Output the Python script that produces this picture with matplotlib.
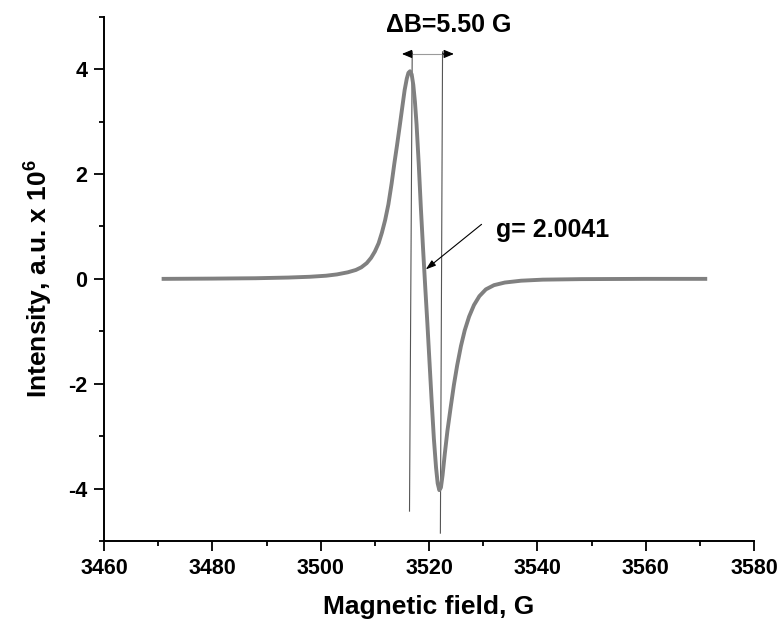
import matplotlib
matplotlib.use("Agg")
import matplotlib.pyplot as plt
from matplotlib.ticker import MultipleLocator

plt.rcParams["font.family"] = ["Liberation Sans", "DejaVu Sans"]
plt.rcParams["font.weight"] = "bold"
plt.rcParams["axes.unicode_minus"] = False
plt.rcParams["mathtext.fontset"] = "custom"
plt.rcParams["mathtext.rm"] = "Liberation Sans:bold"
plt.rcParams["mathtext.bf"] = "Liberation Sans:bold"
plt.rcParams["mathtext.default"] = "regular"

# EPR spectrum (field in G, intensity in 1e6 a.u.)
field = [3471, 3480, 3488, 3494, 3498, 3501, 3503, 3505, 3506.5, 3507.5,
         3508.5, 3509.3, 3510.0, 3510.7, 3511.3, 3511.9, 3512.5, 3513.1, 3513.6,
         3514.1, 3514.6, 3515.1, 3515.5, 3515.9, 3516.2, 3516.5, 3516.8, 3517.1,
         3517.4, 3517.7, 3518.1, 3518.5, 3518.9, 3519.3, 3519.7, 3520.1, 3520.5,
         3520.9, 3521.3, 3521.6, 3521.9, 3522.2, 3522.5, 3522.9, 3523.4, 3524.0,
         3524.6, 3525.2, 3525.9, 3526.6, 3527.4, 3528.3, 3529.3, 3530.5, 3532,
         3534, 3537, 3541, 3548, 3560, 3571]
intensity = [0.0, 0.005, 0.012, 0.025, 0.04, 0.06, 0.085, 0.125, 0.17, 0.22,
             0.30, 0.40, 0.52, 0.68, 0.88, 1.12, 1.42, 1.82, 2.20,
             2.55, 2.92, 3.30, 3.60, 3.82, 3.93, 3.96, 3.90, 3.70,
             3.38, 2.95, 2.20, 1.35, 0.58, -0.15, -0.85, -1.60, -2.35,
             -3.05, -3.60, -3.90, -4.03, -3.98, -3.75, -3.35, -2.90, -2.45,
             -2.02, -1.65, -1.28, -0.98, -0.72, -0.50, -0.33, -0.20, -0.12,
             -0.07, -0.035, -0.015, -0.005, 0.0, 0.0]

# peak-to-peak marker lines
left_line_x = [3516.9, 3516.4]
left_line_y = [4.33, -4.43]
right_line_x = [3522.5, 3522.1]
right_line_y = [4.33, -4.85]
arrow_y = 4.29
dB_label = "\u0394B=5.50 G"
g_label = "g= 2.0041"

fig = plt.figure(figsize=(7.82, 6.24), dpi=100)
ax = fig.add_axes([0.133, 0.133, 0.8312, 0.8402])

ax.plot(field, intensity, color="#808080", lw=2.8, solid_joinstyle="round", zorder=3)

ax.plot(left_line_x, left_line_y, color="#555555", lw=0.8, zorder=2)
ax.plot(right_line_x, right_line_y, color="#555555", lw=0.8, zorder=2)
ax.plot([left_line_x[0], right_line_x[0]], [arrow_y, arrow_y], color="#9a9a9a", lw=0.8)
ax.annotate("", xy=(3515.0, arrow_y), xytext=(left_line_x[0], arrow_y),
            arrowprops=dict(arrowstyle="-|>,head_length=0.6,head_width=0.25",
                            color="black", lw=0.8, shrinkA=0, shrinkB=0))
ax.annotate("", xy=(3524.6, arrow_y), xytext=(right_line_x[0], arrow_y),
            arrowprops=dict(arrowstyle="-|>,head_length=0.6,head_width=0.25",
                            color="black", lw=0.8, shrinkA=0, shrinkB=0))
ax.text(3523.7, 4.84, dB_label, ha="center", va="center", fontsize=18,
        fontweight="bold", clip_on=False)

# g-factor pointer
ax.annotate("", xy=(3519.4, 0.18), xytext=(3529.7, 1.04),
            arrowprops=dict(arrowstyle="-|>,head_length=0.6,head_width=0.2",
                            color="black", lw=0.8, shrinkA=0, shrinkB=0))
ax.text(3532.4, 0.93, g_label, ha="left", va="center", fontsize=18, fontweight="bold")

ax.set_xlim(3460, 3580)
ax.set_ylim(-5, 5)
ax.xaxis.set_major_locator(MultipleLocator(20))
ax.xaxis.set_minor_locator(MultipleLocator(10))
ax.yaxis.set_major_locator(MultipleLocator(2))
ax.yaxis.set_minor_locator(MultipleLocator(1))
ax.tick_params(which="major", direction="out", length=7, width=1.3, labelsize=15.5, pad=5)
ax.tick_params(which="minor", direction="out", length=3.5, width=1.3)
for lab in ax.get_xticklabels() + ax.get_yticklabels():
    lab.set_fontweight("bold")

for side in ("top", "right"):
    ax.spines[side].set_visible(False)
for side in ("left", "bottom"):
    ax.spines[side].set_linewidth(1.4)

ax.set_xlabel("Magnetic field, G", fontsize=19, fontweight="bold")
ax.xaxis.set_label_coords(0.5, -0.103)
ax.set_ylabel("Intensity, a.u. x 10$^{6}$", fontsize=19, fontweight="bold")
ax.yaxis.set_label_coords(-0.075, 0.5)

fig.savefig("out.png", dpi=100)
